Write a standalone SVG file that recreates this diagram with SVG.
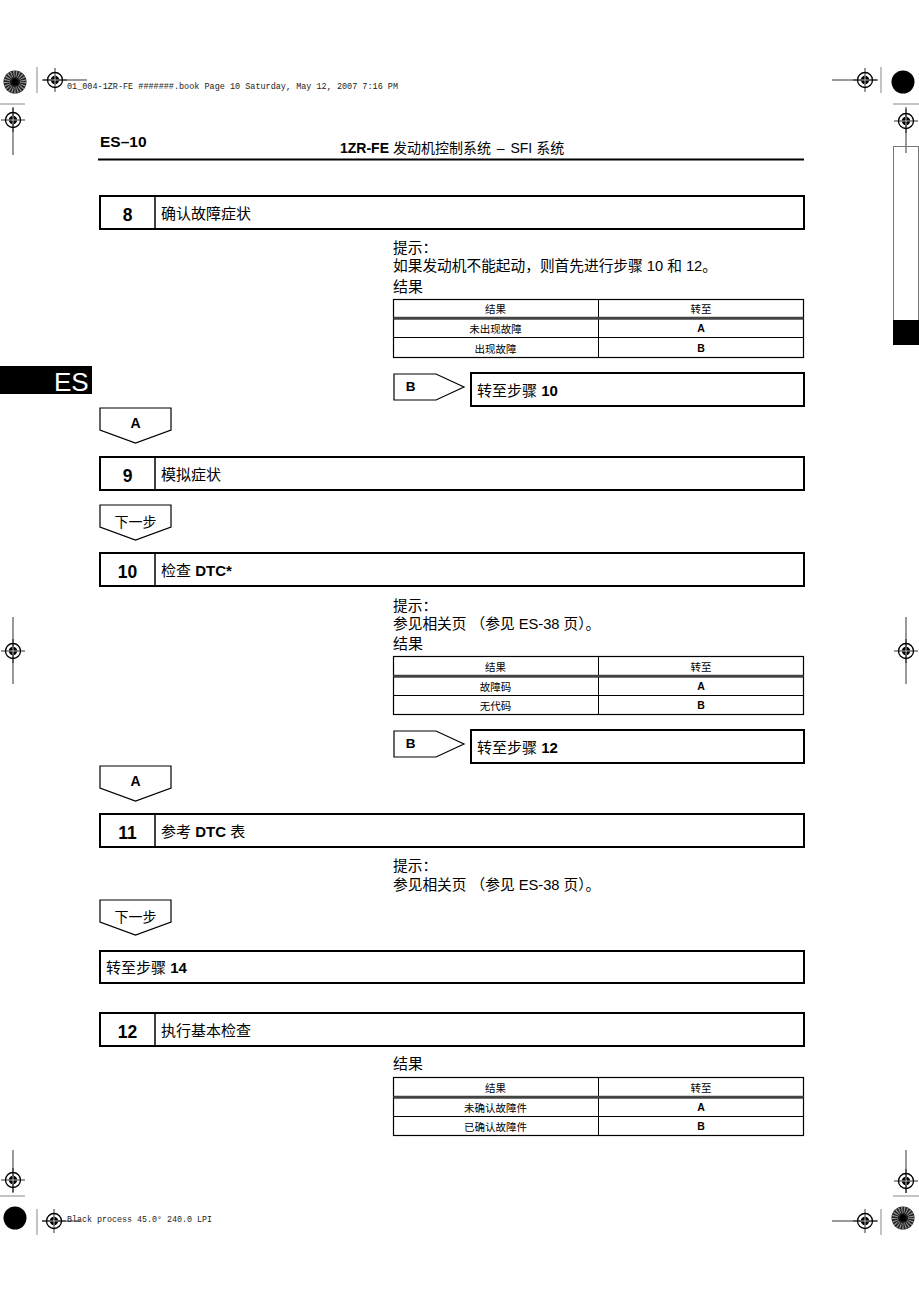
<svg xmlns="http://www.w3.org/2000/svg" xmlns:xlink="http://www.w3.org/1999/xlink" width="919" height="1300" viewBox="0 0 919 1300">
<style>
.box{fill:#fff;stroke:#000;stroke-width:2}
.thin{fill:#fff;stroke:#000;stroke-width:1.2}
.num{font-family:"Liberation Sans",Arial,sans-serif;font-weight:bold;font-size:17.5px;text-anchor:middle;fill:#000}
.ttl{font-family:"Liberation Sans","Noto Sans CJK SC",sans-serif;font-size:15px;fill:#000}
.b{font-weight:bold}
.hint{font-family:"Liberation Sans","Noto Sans CJK SC",sans-serif;font-size:14.7px;fill:#000}
.res{font-family:"Liberation Sans","Noto Sans CJK SC",sans-serif;font-size:15px;fill:#000}
.cell{font-family:"Liberation Sans","Noto Sans CJK SC",sans-serif;font-size:10.5px;text-anchor:middle;fill:#000}
.cellb{font-family:"Liberation Sans",Arial,sans-serif;font-size:10.5px;font-weight:bold;text-anchor:middle;fill:#000}
.lbl{font-family:"Liberation Sans",Arial,sans-serif;font-weight:bold;font-size:14px;text-anchor:middle;fill:#000}
.lblc{font-family:"Liberation Sans","Noto Sans CJK SC",sans-serif;font-size:14px;text-anchor:middle;fill:#000}
.mono{font-family:"Liberation Mono","DejaVu Sans Mono",monospace;font-size:9px;fill:#222}
.ln{stroke:#000;stroke-width:0.8}
.gl{stroke:#888;stroke-width:1}
</style>
<defs>
<g id="tgt">
<line x1="-12" y1="0" x2="12" y2="0" stroke="#000" stroke-width="0.8"/>
<line x1="0" y1="-12" x2="0" y2="12" stroke="#000" stroke-width="0.8"/>
<circle r="7.5" fill="none" stroke="#000" stroke-width="1.3"/>
<circle r="4.2" fill="#000"/>
<line x1="-4.2" y1="0" x2="4.2" y2="0" stroke="#fff" stroke-width="0.7"/>
<line x1="0" y1="-4.2" x2="0" y2="4.2" stroke="#fff" stroke-width="0.7"/>
</g>
<g id="burst">
<circle r="11.5" fill="#222"/>
<circle r="8" fill="none" stroke="#999" stroke-width="6" stroke-dasharray="1 1.4"/>
<circle r="3.5" fill="#000"/>
</g>
<g id="dot"><circle r="11.5" fill="#000"/></g>
</defs>
<rect width="919" height="1300" fill="#fff"/>

<!-- registration marks -->
<g id="marks">
<use xlink:href="#burst" x="15" y="82"/>
<line x1="37" y1="67" x2="37" y2="93" class="gl"/>
<line x1="42" y1="80" x2="87" y2="80" class="ln"/>
<use xlink:href="#tgt" x="55" y="80"/>
<text x="67" y="89" class="mono" textLength="331" lengthAdjust="spacingAndGlyphs">01_004-1ZR-FE #######.book  Page 10  Saturday, May 12, 2007  7:16 PM</text>
<line x1="0" y1="104" x2="25" y2="104" class="gl"/>
<line x1="13" y1="107" x2="13" y2="155" class="ln"/>
<use xlink:href="#tgt" x="13" y="120"/>

<line x1="832" y1="80" x2="878" y2="80" class="ln"/>
<use xlink:href="#tgt" x="865" y="80"/>
<line x1="881" y1="67" x2="881" y2="93" class="gl"/>
<use xlink:href="#dot" x="903" y="82"/>
<line x1="893" y1="104" x2="919" y2="104" class="gl"/>
<line x1="906" y1="107" x2="906" y2="153" class="ln"/>
<use xlink:href="#tgt" x="906" y="121"/>
<rect x="893.5" y="146.5" width="25" height="198" fill="none" stroke="#777" stroke-width="1"/>
<rect x="893" y="320" width="26" height="25" fill="#000"/>

<line x1="13" y1="617" x2="13" y2="684" class="ln"/>
<use xlink:href="#tgt" x="13" y="651"/>
<line x1="906" y1="617" x2="906" y2="684" class="ln"/>
<use xlink:href="#tgt" x="906" y="651"/>

<line x1="13" y1="1150" x2="13" y2="1193" class="ln"/>
<use xlink:href="#tgt" x="13" y="1180"/>
<line x1="0" y1="1196" x2="25" y2="1196" class="gl"/>
<use xlink:href="#dot" x="15" y="1218"/>
<line x1="37" y1="1209" x2="37" y2="1235" class="gl"/>
<line x1="42" y1="1221" x2="80" y2="1221" class="ln"/>
<use xlink:href="#tgt" x="54" y="1221"/>
<text x="67" y="1222" class="mono" textLength="145" lengthAdjust="spacingAndGlyphs">Black process 45.0°  240.0 LPI</text>

<line x1="906" y1="1150" x2="906" y2="1193" class="ln"/>
<use xlink:href="#tgt" x="906" y="1181"/>
<line x1="893" y1="1196" x2="919" y2="1196" class="gl"/>
<line x1="832" y1="1221" x2="878" y2="1221" class="ln"/>
<use xlink:href="#tgt" x="865" y="1221"/>
<line x1="881" y1="1209" x2="881" y2="1235" class="gl"/>
<use xlink:href="#burst" x="903" y="1218"/>
</g>

<!-- header -->
<g id="header">
<text x="100" y="146.5" style="font-family:'Liberation Sans',Arial,sans-serif;font-weight:bold;font-size:15.5px">ES–10</text>
<text x="340" y="153" style="font-family:'Liberation Sans','Noto Sans CJK SC',sans-serif;font-size:14px"><tspan font-weight="bold">1ZR-FE</tspan> 发动机控制系统 <tspan dx="2">–</tspan> <tspan dx="2">SFI 系统</tspan></text>
<line x1="98" y1="159.5" x2="804" y2="159.5" stroke="#000" stroke-width="2.2"/>
</g>

<g id="es-tab">
<rect x="0" y="366" width="92" height="28" fill="#000"/>
<text x="54" y="391" style="font-family:'Liberation Sans',Arial,sans-serif;font-size:26px;fill:#fff">ES</text>
</g>

<!-- step boxes -->
<g id="step8">
<rect x="100" y="196" width="704" height="33" class="box"/>
<line x1="155" y1="196" x2="155" y2="229" stroke="#000" stroke-width="1.5"/>
<text x="127.5" y="220.5" class="num">8</text>
<text x="161" y="219" class="ttl">确认故障症状</text>
</g>
<g id="hint8">
<text x="393" y="253" class="hint">提示：</text>
<text x="393" y="271" class="hint">如果发动机不能起动，则首先进行步骤 10 和 12。</text>
<text x="393" y="292" class="res">结果</text>
</g>
<g id="table8">
<rect x="393.5" y="299.5" width="410" height="58" class="thin"/>
<line x1="598.5" y1="299.5" x2="598.5" y2="357.5" stroke="#000" stroke-width="1"/>
<line x1="393.5" y1="318.3" x2="803.5" y2="318.3" stroke="#444" stroke-width="3"/>
<line x1="393.5" y1="337.5" x2="803.5" y2="337.5" stroke="#000" stroke-width="1"/>
<text x="495.5" y="313" class="cell">结果</text>
<text x="701" y="313" class="cell">转至</text>
<text x="495.5" y="333" class="cell">未出现故障</text>
<text x="701" y="332" class="cellb">A</text>
<text x="495.5" y="353" class="cell">出现故障</text>
<text x="701" y="351.5" class="cellb">B</text>
</g>
<g id="goto10">
<rect x="471" y="373" width="333" height="33" class="box"/>
<text x="477" y="395.5" class="ttl">转至步骤 <tspan class="b">10</tspan></text>
</g>

<g id="step9">
<rect x="100" y="457" width="704" height="33" class="box"/>
<line x1="155" y1="457" x2="155" y2="490" stroke="#000" stroke-width="1.5"/>
<text x="127.5" y="481.5" class="num">9</text>
<text x="161" y="480" class="ttl">模拟症状</text>
</g>

<g id="step10">
<rect x="100" y="553" width="704" height="33" class="box"/>
<line x1="155" y1="553" x2="155" y2="586" stroke="#000" stroke-width="1.5"/>
<text x="127.5" y="577.5" class="num">10</text>
<text x="161" y="576" class="ttl">检查 <tspan class="b">DTC*</tspan></text>
</g>
<g id="hint10">
<text x="393" y="611" class="hint">提示：</text>
<text x="393" y="629" class="hint">参见相关页 （参见 ES-38 页）。</text>
<text x="393" y="649" class="res">结果</text>
</g>
<g id="table10">
<rect x="393.5" y="656.5" width="410" height="58" class="thin"/>
<line x1="598.5" y1="656.5" x2="598.5" y2="714.5" stroke="#000" stroke-width="1"/>
<line x1="393.5" y1="676.3" x2="803.5" y2="676.3" stroke="#444" stroke-width="3"/>
<line x1="393.5" y1="695.5" x2="803.5" y2="695.5" stroke="#000" stroke-width="1"/>
<text x="495.5" y="671" class="cell">结果</text>
<text x="701" y="671" class="cell">转至</text>
<text x="495.5" y="691" class="cell">故障码</text>
<text x="701" y="690" class="cellb">A</text>
<text x="495.5" y="710" class="cell">无代码</text>
<text x="701" y="709" class="cellb">B</text>
</g>
<g id="goto12">
<rect x="471" y="730" width="333" height="33" class="box"/>
<text x="477" y="752.5" class="ttl">转至步骤 <tspan class="b">12</tspan></text>
</g>

<g id="step11">
<rect x="100" y="814" width="704" height="33" class="box"/>
<line x1="155" y1="814" x2="155" y2="847" stroke="#000" stroke-width="1.5"/>
<text x="127.5" y="838.5" class="num">11</text>
<text x="161" y="837" class="ttl">参考 <tspan class="b">DTC</tspan> 表</text>
</g>
<g id="hint11">
<text x="393" y="871" class="hint">提示：</text>
<text x="393" y="890" class="hint">参见相关页 （参见 ES-38 页）。</text>
</g>

<g id="goto14">
<rect x="100" y="951" width="704" height="32" class="box"/>
<text x="106" y="973" class="ttl">转至步骤 <tspan class="b">14</tspan></text>
</g>

<g id="step12">
<rect x="100" y="1013" width="704" height="33" class="box"/>
<line x1="155" y1="1013" x2="155" y2="1046" stroke="#000" stroke-width="1.5"/>
<text x="127.5" y="1037.5" class="num">12</text>
<text x="161" y="1036" class="ttl">执行基本检查</text>
</g>
<g id="hint12">
<text x="393" y="1069" class="res">结果</text>
</g>
<g id="table12">
<rect x="393.5" y="1077.5" width="410" height="58" class="thin"/>
<line x1="598.5" y1="1077.5" x2="598.5" y2="1135.5" stroke="#000" stroke-width="1"/>
<line x1="393.5" y1="1097.3" x2="803.5" y2="1097.3" stroke="#444" stroke-width="3"/>
<line x1="393.5" y1="1116.5" x2="803.5" y2="1116.5" stroke="#000" stroke-width="1"/>
<text x="495.5" y="1092" class="cell">结果</text>
<text x="701" y="1092" class="cell">转至</text>
<text x="495.5" y="1112" class="cell">未确认故障件</text>
<text x="701" y="1111" class="cellb">A</text>
<text x="495.5" y="1131" class="cell">已确认故障件</text>
<text x="701" y="1130" class="cellb">B</text>
</g>

<!-- connectors (flow arrows) -->
<g id="connectors">
<g id="arrowB1">
<polygon points="394,374 436,374 464,387 436,400 394,400" class="thin"/>
<text x="410.5" y="391" class="lbl" style="font-size:13.5px">B</text>
</g>
<g id="arrowA1">
<polygon points="100,408 171,408 171,430 135.5,443 100,430" class="thin"/>
<text x="135.5" y="428" class="lbl">A</text>
</g>
<g id="arrowNext1">
<polygon points="100,505 171,505 171,527 135.5,540 100,527" class="thin"/>
<text x="135.5" y="526.5" class="lblc">下一步</text>
</g>
<g id="arrowB2">
<polygon points="394,731 436,731 464,744 436,757 394,757" class="thin"/>
<text x="410.5" y="748" class="lbl" style="font-size:13.5px">B</text>
</g>
<g id="arrowA2">
<polygon points="100,766 171,766 171,788 135.5,801 100,788" class="thin"/>
<text x="135.5" y="786" class="lbl">A</text>
</g>
<g id="arrowNext2">
<polygon points="100,900 171,900 171,922 135.5,935 100,922" class="thin"/>
<text x="135.5" y="921.5" class="lblc">下一步</text>
</g>
</g>
</svg>
